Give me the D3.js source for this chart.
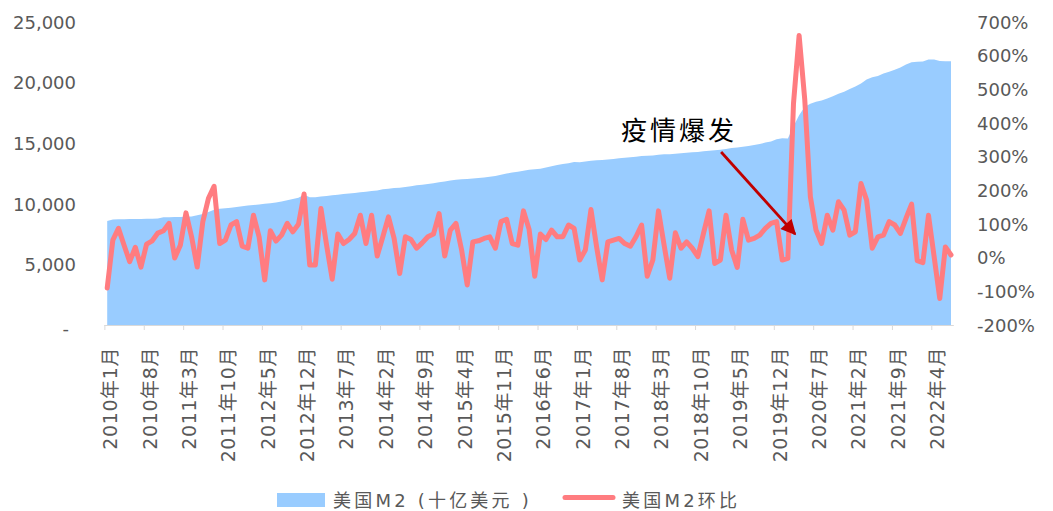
<!DOCTYPE html>
<html><head><meta charset="utf-8">
<script src="https://cdn.jsdelivr.net/npm/d3@7"></script>
<style>
html,body{margin:0;padding:0;background:#fff;}
svg{display:block;}
</style></head>
<body>
<svg id="chart" width="1053" height="511"></svg>
<script>
// ---- data ----
const startYear = 2010, monthCount = 151;
const categories = [];
for (let i = 0; i < monthCount; i++) {
  categories.push(`${startYear + Math.floor(i / 12)}年${(i % 12) + 1}月`);
}
// US M2 (billion USD)
const m2Values = [
  8580,8700,8720,8730,8740,8740,8750,8760,8770,8790,8880,8900,
  8910,8920,8940,8960,9050,9150,9320,9500,9600,9640,9680,9730,
  9800,9850,9900,9950,10000,10050,10100,10200,10300,10400,10500,10750,
  10550,10540,10600,10650,10700,10750,10800,10850,10900,10960,11000,11050,
  11100,11200,11250,11300,11320,11380,11450,11530,11580,11640,11700,11780,
  11850,11920,11980,12030,12050,12080,12130,12170,12230,12300,12400,12500,
  12580,12650,12720,12800,12850,12900,13000,13100,13200,13280,13350,13450,
  13430,13480,13550,13600,13620,13650,13700,13750,13800,13840,13880,13950,
  13970,13990,14050,14080,14090,14130,14170,14210,14260,14280,14330,14380,
  14420,14450,14530,14600,14640,14700,14760,14850,14930,15050,15150,15330,
  15400,15380,16400,17300,18000,18250,18420,18520,18680,18880,19080,19250,
  19480,19680,19930,20250,20450,20550,20750,20900,21050,21250,21500,21680,
  21720,21750,21900,21900,21780,21760,21760
];
// US M2 month-on-month (%, as shown on right axis)
const momValues = [
  -90,52,87,37,-12,31,-28,40,50,73,80,102,
  -1,37,133,62,-28,107,176,212,42,52,97,107,
  34,28,126,62,-66,80,49,67,102,77,99,189,
  -22,-22,146,37,-64,70,42,54,72,126,42,126,
  5,62,121,57,-47,62,54,28,44,62,70,131,
  5,82,102,23,-81,47,50,57,62,28,107,114,
  42,37,139,84,-55,70,54,82,62,62,97,87,
  -7,23,143,32,-66,47,52,57,42,34,62,97,
  -55,-7,139,37,-61,74,28,47,28,3,72,139,
  -17,-7,126,23,-29,114,52,57,67,87,102,107,
  -7,-2,458,660,470,181,82,42,126,82,166,141,
  67,77,220,171,28,62,67,107,97,72,117,159,
  -9,-15,126,3,-121,32,8
];
const leftTicks = [0, 5000, 10000, 15000, 20000, 25000];
const rightTicks = [-200, -100, 0, 100, 200, 300, 400, 500, 600, 700];
const xTickEvery = 7;
const seriesNames = ["美国M2 (十亿美元 )", "美国M2环比"];
const annotationText = "疫情爆发";
const annotationMonth = "2020年4月";

// ---- scales ----
const svg = d3.select("#chart");
const x = d3.scalePoint().domain(categories).range([107.2, 951]).padding(0);
const step = x.step();
const yL = d3.scaleLinear().domain([0, 25000]).range([325, 22]);
const yR = d3.scaleLinear().domain([-200, 700]).range([325, 22]);

const axisFont = "'DejaVu Sans','Noto Sans CJK SC',sans-serif";
const textColor = "#595959";

// ---- area ----
const data = categories.map((c, i) => ({c, m2: m2Values[i], mom: momValues[i]}));
svg.append("path").datum(data)
  .attr("fill", "#99CCFF")
  .attr("d", d3.area().x(d => x(d.c)).y0(yL(0)).y1(d => yL(d.m2)));

// ---- x axis ----
const xAxis = d3.axisBottom(x)
  .tickValues(categories.filter((c, i) => i % xTickEvery === 0))
  .tickSize(5).tickSizeOuter(0).tickFormat(d => d);
const gx = svg.append("g").attr("transform", `translate(0,${yL(0)})`).call(xAxis);
gx.select(".domain").remove();
gx.append("line").attr("x1", x(categories[0]) - step / 2).attr("x2", x(categories[monthCount - 1]) + step / 2)
  .attr("y1", 0.5).attr("y2", 0.5).attr("stroke", "#d9d9d9").attr("stroke-width", 1);
gx.selectAll(".tick line").attr("stroke", "#d9d9d9")
  .attr("transform", `translate(${-step / 2},0)`);
gx.selectAll(".tick text")
  .attr("fill", textColor)
  .style("font-family", axisFont).style("font-size", "19px").style("letter-spacing", "0.6px")
  .attr("text-anchor", "end")
  .attr("dominant-baseline", "central")
  .attr("dy", null).attr("y", 0)
  .attr("transform", "translate(2.5,22) rotate(-90)");

// ---- left axis ----
const gl = svg.append("g").attr("transform", "translate(76,0)")
  .call(d3.axisLeft(yL).tickValues(leftTicks).tickSize(0)
    .tickFormat(d => d === 0 ? "-" : d3.format(",")(d)));
gl.select(".domain").remove();
gl.selectAll(".tick text").attr("fill", textColor).attr("x", 0)
  .style("font-family", axisFont).style("font-size", "18px")
  .attr("dy", "0.35em");
gl.selectAll(".tick text").filter(d => d === 0).attr("x", -7).attr("dy", "0.55em");

// ---- right axis ----
const gr = svg.append("g").attr("transform", "translate(977,0)")
  .call(d3.axisRight(yR).tickValues(rightTicks).tickSize(0).tickFormat(d => d + "%"));
gr.select(".domain").remove();
gr.selectAll(".tick text").attr("fill", textColor).attr("x", 0)
  .style("font-family", axisFont).style("font-size", "18px")
  .attr("dy", "0.35em");

// ---- line ----
svg.append("path").datum(data)
  .attr("fill", "none").attr("stroke", "#FF7C80").attr("stroke-width", 5)
  .attr("stroke-linejoin", "round").attr("stroke-linecap", "round")
  .attr("d", d3.line().x(d => x(d.c)).y(d => yR(d.mom)));

// ---- annotation ----
svg.append("defs").append("marker")
  .attr("id", "arrowhead").attr("viewBox", "0 0 10 10")
  .attr("refX", 9).attr("refY", 5)
  .attr("markerWidth", 6).attr("markerHeight", 5.5)
  .attr("markerUnits", "strokeWidth")
  .attr("orient", "auto")
  .append("path").attr("d", "M0,0 L10,5 L0,10 Z").attr("fill", "#C00000");

const ax = x(annotationMonth);
svg.append("line")
  .attr("x1", ax - 78).attr("y1", 152)
  .attr("x2", ax - 4).attr("y2", yR(70))
  .attr("stroke", "#C00000").attr("stroke-width", 2.75)
  .attr("marker-end", "url(#arrowhead)");
svg.append("text")
  .attr("x", ax - 178).attr("y", 128)
  .attr("dominant-baseline", "central")
  .style("font-family", "'Noto Sans CJK SC',sans-serif")
  .style("font-size", "26px").style("letter-spacing", "3px")
  .attr("fill", "#000").text(annotationText);

// ---- legend ----
const lg = svg.append("g").style("font-family", axisFont).style("font-size", "18px");
lg.append("rect").attr("x", 277).attr("y", 493).attr("width", 48).attr("height", 14).attr("fill", "#99CCFF");
lg.append("text").attr("x", 333).attr("y", 500).attr("dominant-baseline", "central")
  .attr("fill", textColor).style("letter-spacing", "3.2px").text(seriesNames[0]);
lg.append("line").attr("x1", 565).attr("x2", 613).attr("y1", 497.5).attr("y2", 497.5)
  .attr("stroke", "#FF7C80").attr("stroke-width", 5).attr("stroke-linecap", "round");
lg.append("text").attr("x", 622).attr("y", 500).attr("dominant-baseline", "central")
  .attr("fill", textColor).style("letter-spacing", "3.2px").text(seriesNames[1]);
</script>
</body></html>
